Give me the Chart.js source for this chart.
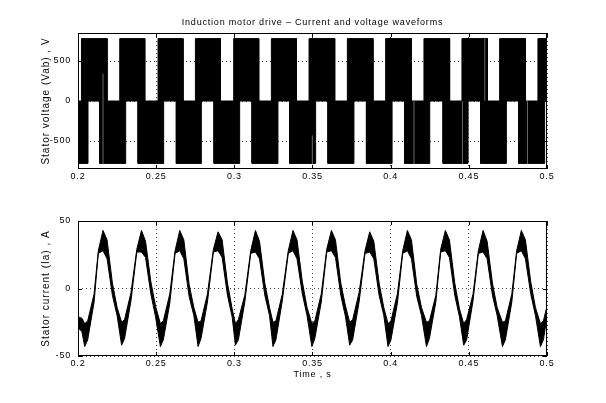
<!DOCTYPE html>
<html>
<head>
<meta charset="utf-8">
<script src="https://cdn.jsdelivr.net/npm/chart.js@4.4.0/dist/chart.umd.min.js"></script>
<style>
  body { margin: 0; background: #fff; }
  #wrap { position: relative; width: 606px; height: 403px; }
  canvas { position: absolute; left: 0; }
  #vchart { top: 0; }
  #ichart { top: 200px; }
</style>
</head>
<body>
<div id="wrap">
  <canvas id="vchart" width="606" height="200"></canvas>
  <canvas id="ichart" width="606" height="203"></canvas>
</div>
<script>
// tick labels
const timeTicks = [0.2, 0.25, 0.3, 0.35, 0.4, 0.45, 0.5]
const voltTicks = [-500, 0, 500]
const currTicks = [-50, 0, 50]

// Vab: the PWM is too dense to resolve, every pulse group shows as a solid block
const busVoltage = 780
const posStart = [0.2022, 0.2267, 0.2512, 0.2751, 0.2996, 0.3237, 0.3478, 0.3723, 0.3968, 0.4213, 0.4456, 0.4697, 0.4942]
const posEnd = [0.2186, 0.2427, 0.2672, 0.2911, 0.3156, 0.3397, 0.3642, 0.3887, 0.4133, 0.4377, 0.4619, 0.4862, 0.5]
const negStart = [0.2, 0.2139, 0.2384, 0.2629, 0.287, 0.3113, 0.3354, 0.3599, 0.3845, 0.409, 0.4335, 0.4576, 0.4819]
const negEnd = [0.2064, 0.2305, 0.2548, 0.2789, 0.3034, 0.3279, 0.352, 0.3765, 0.4009, 0.425, 0.4495, 0.474, 0.4985]

// single switching edges that show up as grey lines inside the blocks
const edgeTime = [0.216, 0.3499, 0.4149, 0.4459, 0.4602, 0.4875]
const edgeFrom = [-790, -790, -790, -790, 0, -790]
const edgeTo = [340, -430, 0, 0, 780, 0]

// Ia: upper and lower edge of the ripple band
const iTime = [
  0.2, 0.2025,
  0.2043, 0.2062, 0.2103, 0.213, 0.216, 0.2186, 0.222, 0.225,
  0.2279, 0.2298, 0.2339, 0.2376, 0.2406, 0.2432, 0.2466, 0.2496,
  0.2527, 0.2546, 0.2587, 0.2621, 0.2651, 0.2677, 0.2711, 0.2741,
  0.2768, 0.2787, 0.2828, 0.2866, 0.2896, 0.2922, 0.2956, 0.2986,
  0.3007, 0.3026, 0.3067, 0.3105, 0.3135, 0.3161, 0.3195, 0.3225,
  0.3247, 0.3266, 0.3307, 0.3345, 0.3375, 0.3401, 0.3435, 0.3465,
  0.3496, 0.3515, 0.3556, 0.3591, 0.3621, 0.3647, 0.3681, 0.3711,
  0.3738, 0.3757, 0.3798, 0.3836, 0.3866, 0.3892, 0.3926, 0.3956,
  0.3983, 0.4002, 0.4043, 0.4077, 0.4107, 0.4133, 0.4167, 0.4197,
  0.4229, 0.4248, 0.4289, 0.432, 0.435, 0.4376, 0.441, 0.444,
  0.4467, 0.4486, 0.4527, 0.4561, 0.4591, 0.4617, 0.4651, 0.4681,
  0.4715, 0.4734, 0.4775, 0.4806, 0.4836, 0.4862, 0.4896, 0.4926,
  0.4958, 0.4977, 0.5,
]
const iUpper = [
  -21, -22,
  -26, -24, -4, 28, 43, 36, 4, -14,
  -25, -23, -3, 29, 43, 35, 5, -13,
  -26, -24, -4, 28, 43, 36, 3, -14,
  -25, -24, -4, 29, 42, 36, 4, -15,
  -26, -23, -5, 28, 43, 35, 4, -14,
  -25, -24, -4, 28, 43, 36, 5, -14,
  -26, -24, -4, 29, 43, 36, 4, -13,
  -25, -23, -3, 28, 42, 35, 4, -14,
  -26, -24, -4, 28, 43, 36, 3, -14,
  -25, -24, -5, 29, 43, 36, 4, -15,
  -26, -23, -4, 28, 43, 35, 4, -14,
  -25, -24, -4, 28, 43, 36, 5, -14,
  -26, -24, -13,
]
const iLower = [
  -29, -32,
  -43, -38, -10, 26, 28, 22, -5, -20,
  -42, -37, -9, 27, 27, 23, -4, -21,
  -43, -38, -11, 26, 28, 22, -6, -20,
  -43, -37, -10, 27, 28, 23, -5, -21,
  -42, -38, -10, 26, 27, 22, -5, -20,
  -43, -38, -9, 26, 28, 22, -4, -20,
  -43, -37, -10, 27, 28, 23, -5, -21,
  -42, -38, -10, 26, 27, 22, -5, -20,
  -43, -38, -11, 26, 28, 22, -6, -20,
  -43, -37, -10, 27, 28, 23, -5, -21,
  -42, -38, -9, 26, 27, 22, -5, -20,
  -43, -38, -10, 26, 28, 22, -4, -20,
  -43, -38, -21,
]

const FONT = "Liberation Sans, Arial, Helvetica, sans-serif"
Chart.defaults.font.family = FONT
Chart.defaults.font.size = 9
Chart.defaults.color = "#000"

// block outline: zero between blocks, level inside
function pulseLine(starts, ends, level) {
  const pts = [{ x: 0.2, y: 0 }]
  starts.forEach((s, i) => {
    pts.push({ x: s, y: 0 }, { x: s, y: level }, { x: ends[i], y: level }, { x: ends[i], y: 0 })
  })
  pts.push({ x: 0.5, y: 0 })
  return pts
}

function edgeLines() {
  const pts = []
  edgeTime.forEach((t, i) => {
    pts.push({ x: t, y: edgeFrom[i] }, { x: t, y: edgeTo[i] }, { x: t, y: null })
  })
  return pts
}

const fmtTime = (v) => String(+Number(v).toFixed(2))

// matlab look: full box, inward ticks, labels placed by hand
const matlabAxes = {
  id: "matlabAxes",
  beforeDraw(chart) {
    chart.ctx.letterSpacing = "0.8px"
  },
  afterDraw(chart, args, opts) {
    const { ctx, chartArea: a, scales } = chart
    ctx.save()
    ctx.strokeStyle = "#000"
    ctx.lineWidth = 1
    ctx.strokeRect(a.left + 0.5, a.top + 0.5, a.right - a.left - 1, a.bottom - a.top - 1)

    ctx.beginPath()
    timeTicks.forEach((v) => {
      const px = Math.round(scales.x.getPixelForValue(v)) + 0.5
      ctx.moveTo(px, a.bottom)
      ctx.lineTo(px, a.bottom - 4)
      ctx.moveTo(px, a.top)
      ctx.lineTo(px, a.top + 4)
    })
    opts.yTicks.forEach((v) => {
      const py = Math.round(scales.y.getPixelForValue(v)) + 0.5
      ctx.moveTo(a.left, py)
      ctx.lineTo(a.left + 4, py)
      ctx.moveTo(a.right, py)
      ctx.lineTo(a.right - 4, py)
    })
    ctx.stroke()

    ctx.fillStyle = "#000"
    ctx.font = "9px " + FONT
    ctx.textAlign = "center"
    ctx.textBaseline = "middle"
    const cx = (a.left + a.right) / 2
    if (opts.title) ctx.fillText(opts.title, cx, opts.titleY)
    if (opts.xlabel) ctx.fillText(opts.xlabel, cx, opts.xlabelY)
    if (opts.ylabel) {
      ctx.font = "10px " + FONT
      ctx.letterSpacing = "1px"
      ctx.translate(46, (a.top + a.bottom) / 2)
      ctx.rotate(-Math.PI / 2)
      ctx.fillText(opts.ylabel, 0, 0)
    }
    ctx.restore()
    ctx.letterSpacing = "0px"
  },
}

function axisOptions(yMin, yMax, yTicks) {
  return {
    x: {
      type: "linear",
      min: 0.2,
      max: 0.5,
      afterBuildTicks: (s) => { s.ticks = timeTicks.map((v) => ({ value: v })) },
      afterFit: (s) => { s.height = 20 },
      ticks: { callback: fmtTime, padding: 2, maxRotation: 0, autoSkip: false },
      grid: { color: "#444", drawTicks: false },
      border: { display: false, dash: [1, 3] },
    },
    y: {
      min: yMin,
      max: yMax,
      afterBuildTicks: (s) => { s.ticks = yTicks.map((v) => ({ value: v })) },
      afterFit: (s) => { s.width = 78 },
      ticks: { padding: 7, autoSkip: false },
      grid: { color: "#444", drawTicks: false },
      border: { display: false, dash: [1, 3] },
    },
  }
}

const common = {
  responsive: false,
  animation: false,
  devicePixelRatio: 1,
  elements: { point: { radius: 0 }, line: { tension: 0 } },
}

// Stator voltage
new Chart(document.getElementById("vchart"), {
  type: "line",
  data: {
    datasets: [
      {
        data: edgeLines(),
        borderColor: "#6a6a6a",
        borderWidth: 1,
        fill: false,
        spanGaps: false,
        order: 0,
      },
      {
        data: pulseLine(posStart, posEnd, busVoltage),
        borderColor: "#000",
        backgroundColor: "#000",
        borderWidth: 1,
        fill: "origin",
        order: 1,
      },
      {
        data: pulseLine(negStart, negEnd, -busVoltage),
        borderColor: "#000",
        backgroundColor: "#000",
        borderWidth: 1,
        fill: "origin",
        order: 1,
      },
    ],
  },
  options: {
    ...common,
    layout: { padding: { top: 33, right: 59, bottom: 11, left: 0 } },
    scales: axisOptions(-850, 850, voltTicks),
    plugins: {
      legend: { display: false },
      tooltip: { enabled: false },
      matlabAxes: {
        yTicks: voltTicks,
        title: "Induction motor drive \u2013 Current and voltage waveforms",
        titleY: 23,
        ylabel: "Stator voltage (Vab) , V",
      },
    },
  },
  plugins: [matlabAxes],
})

// Stator current
new Chart(document.getElementById("ichart"), {
  type: "line",
  data: {
    datasets: [
      {
        data: iTime.map((t, i) => ({ x: t, y: iUpper[i] })),
        borderColor: "#000",
        borderWidth: 1,
        fill: false,
      },
      {
        data: iTime.map((t, i) => ({ x: t, y: iLower[i] })),
        borderColor: "#000",
        backgroundColor: "#000",
        borderWidth: 1,
        fill: "-1",
      },
    ],
  },
  options: {
    ...common,
    layout: { padding: { top: 21, right: 59, bottom: 27, left: 0 } },
    scales: axisOptions(-50, 50, currTicks),
    plugins: {
      legend: { display: false },
      tooltip: { enabled: false },
      matlabAxes: {
        yTicks: currTicks,
        ylabel: "Stator current (Ia) , A",
        xlabel: "Time , s",
        xlabelY: 175,
      },
    },
  },
  plugins: [matlabAxes],
})
</script>
</body>
</html>
